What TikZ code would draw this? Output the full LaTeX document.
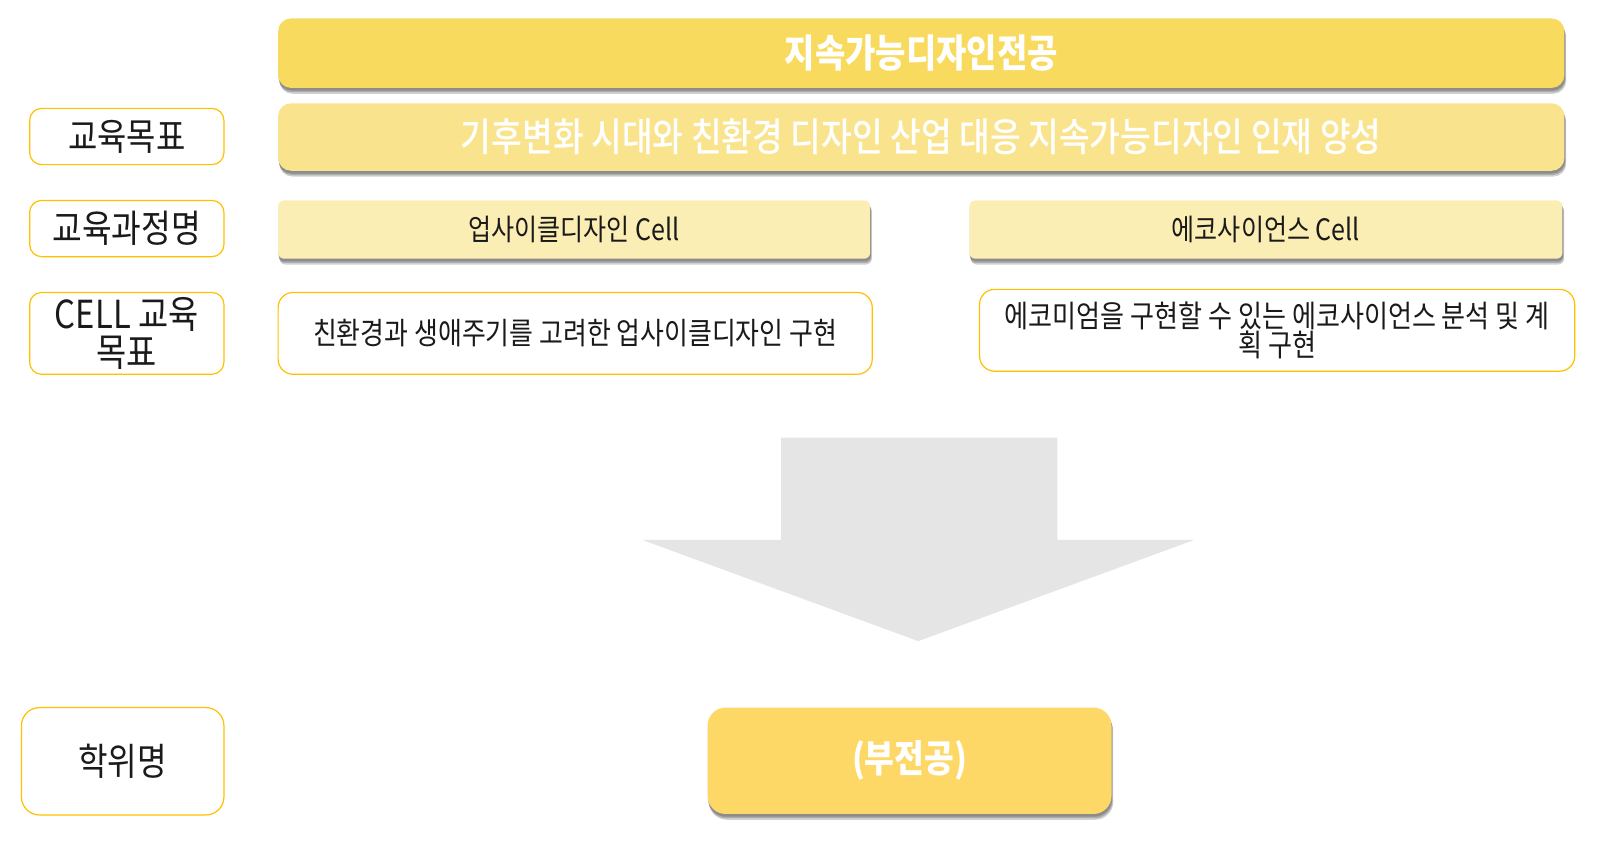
\documentclass[tikz,border=0pt]{standalone}
\usepackage{fontspec}
\setmainfont{Noto Sans CJK KR}[FakeStretch=0.85]
\newfontfamily\medfont{Noto Sans CJK KR Medium}[FakeStretch=0.85]
\usetikzlibrary{backgrounds}
\definecolor{barA}{HTML}{F8DB5E}
\definecolor{barB}{HTML}{F9E48D}
\definecolor{barC}{HTML}{FBEEB4}
\definecolor{barD}{HTML}{FED866}
\definecolor{edgeY}{HTML}{FFC000}
\definecolor{arrowG}{HTML}{E5E5E5}
\definecolor{txt}{HTML}{1A1A1A}
\newcommand{\sk}{1.0225}
\tikzset{
  filledbox/.style={draw=none, inner sep=0pt, align=center},
  outlinebox/.style={draw=edgeY, line width=1.2pt, fill=white, inner sep=0pt, align=center, text=txt},
  shadowfill/.style={fill=black, opacity=0.18},
}
\newcommand{\boxshadow}[2]{%
  \begin{scope}[on background layer]
    \fill[shadowfill, rounded corners=#2] ([shift={(1,4)}]#1.north west) rectangle ([shift={(1,4)}]#1.south east);
    \fill[shadowfill, rounded corners=#2] ([shift={(0.5,2.5)}]#1.north west) rectangle ([shift={(0.5,2.5)}]#1.south east);
    \fill[shadowfill, rounded corners=#2] ([shift={(1.5,5.5)}]#1.north west) rectangle ([shift={(1.5,5.5)}]#1.south east);
  \end{scope}}
\begin{document}
\begin{tikzpicture}[x=\sk pt,y=-\sk pt]
\useasboundingbox (0,0) rectangle (1566.7,839.1);
% top bars
\node[filledbox, fill=barA, rounded corners=13pt, minimum width=1258*\sk, minimum height=68*\sk, text=white,
  font=\fontsize{38.8}{42}\selectfont\bfseries] (major) at (901,52) {지속가능디자인전공};
\boxshadow{major}{13pt}
\node[filledbox, fill=barB, rounded corners=13pt, minimum width=1258*\sk, minimum height=66*\sk, text=white,
  font=\fontsize{39.3}{42}\medfont] (goal) at (901,134) {기후변화 시대와 친환경 디자인 산업 대응 지속가능디자인 인재 양성};
\boxshadow{goal}{13pt}
% cells
\node[filledbox, fill=barC, rounded corners=6pt, minimum width=579*\sk, minimum height=57*\sk, text=txt,
  font=\fontsize{29.5}{32}\selectfont] (cellL) at (561.5,224.5) {업사이클디자인 Cell};
\boxshadow{cellL}{6pt}
\node[filledbox, fill=barC, rounded corners=6pt, minimum width=580*\sk, minimum height=57*\sk, text=txt,
  font=\fontsize{29.5}{32}\selectfont] (cellR) at (1238,224.5) {에코사이언스 Cell};
\boxshadow{cellR}{6pt}
% cell goals
\node[outlinebox, rounded corners=15pt, minimum width=581*\sk, minimum height=80*\sk,
  font=\fontsize{30.5}{32}\selectfont] (cgL) at (562.5,326) {친환경과 생애주기를 고려한 업사이클디자인 구현};
\node[outlinebox, rounded corners=15pt, minimum width=582*\sk, minimum height=80*\sk,
  font=\fontsize{30.7}{29.5}\selectfont] (cgR) at (1249,323) {에코미엄을 구현할 수 있는 에코사이언스 분석 및 계\\획 구현};
% left labels
\node[outlinebox, rounded corners=12pt, minimum width=190*\sk, minimum height=55*\sk,
  font=\fontsize{37.5}{40}\selectfont] (l1) at (124,133.5) {교육목표};
\node[outlinebox, rounded corners=12pt, minimum width=190*\sk, minimum height=55*\sk,
  font=\fontsize{38}{40}\selectfont] (l2) at (124,223.5) {교육과정명};
\node[outlinebox, rounded corners=12pt, minimum width=190*\sk, minimum height=80*\sk,
  font=\fontsize{38.6}{38}\selectfont] (l3) at (124,326) {CELL 교육\\목표};
\node[outlinebox, rounded corners=18pt, minimum width=198*\sk, minimum height=105*\sk,
  font=\fontsize{37.8}{40}\selectfont] (l4) at (120,744.5) {학위명};
% big arrow
\fill[arrowG] (764,428) -- (1034,428) -- (1034,528) -- (1168,528) -- (898,627)
  -- (628,528) -- (764,528) -- cycle;
% degree
\node[filledbox, fill=barD, rounded corners=18pt, minimum width=395*\sk, minimum height=104*\sk, text=white,
  font=\fontsize{38}{40}\selectfont\bfseries] (deg) at (889.5,744) {(부전공)};
\boxshadow{deg}{18pt}
\end{tikzpicture}
\end{document}
